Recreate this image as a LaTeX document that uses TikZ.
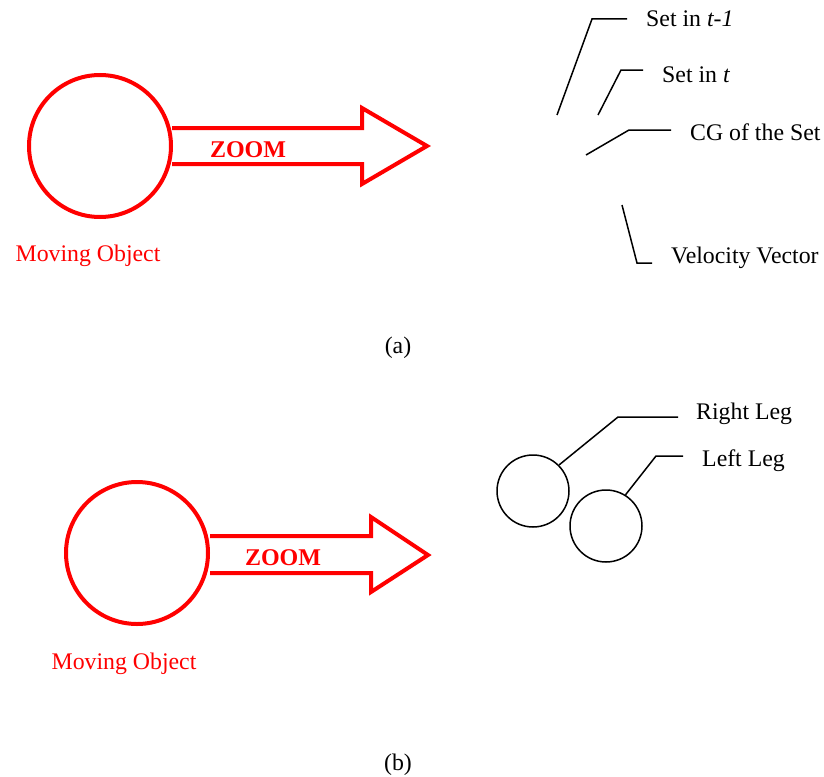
\documentclass[tikz,border=0pt]{standalone}
\usepackage{fontspec}
\setmainfont{Liberation Serif}
\begin{document}
\begin{tikzpicture}[x=1pt,y=-1pt,
  txt/.style={inner sep=0pt, font=\fontsize{23.8}{28}\selectfont},
  redtxt/.style={txt, text=red},
  zoomtxt/.style={inner sep=0pt, text=red, font=\fontsize{24}{28}\selectfont\bfseries},
  bigobj/.style={circle, draw=red, line width=4pt, minimum size=142pt, inner sep=0pt},
  leg/.style={circle, draw=black, line width=1.5pt, minimum size=72pt, inner sep=0pt},
  zoomarrow/.style={draw=red, line width=4pt, line join=miter},
  callout/.style={draw=black, line width=1.5pt}]
\useasboundingbox (0,0) rectangle (824,776);

% ---------- (a) moving object, zoom, tracked set ----------
\node[bigobj] (objA) at (100,146) {};
\path[zoomarrow] (172,128) -- (362,128) -- (362,108) -- (427,146)
  -- (362,184) -- (362,164) -- (172,164);
\node[zoomtxt, anchor=base] (zoomA) at (248,157) {ZOOM};
\node[redtxt, anchor=base] (movA) at (88,261) {Moving Object};

\node[txt, anchor=base west] (setPrev) at (646,27) {Set in \textit{t-1}};
\node[txt, anchor=base west] (setCur) at (662,82) {Set in \textit{t}};
\node[txt, anchor=base west] (cg) at (690,140) {CG of the Set};
\node[txt, anchor=base west] (vel) at (671,263) {Velocity Vector};

\coordinate (pPrev) at (557,115);
\coordinate (pCur) at (598,115);
\coordinate (pCg) at (586,155);
\coordinate (pVel) at (622,205);

\draw[callout] (pPrev) -- (592,19) -- (627,19);
\draw[callout] (pCur) -- (621,70) -- (643,70);
\draw[callout] (pCg) -- (629,130) -- (671,130);
\draw[callout] (pVel) -- (637,263) -- (652,263);

\node[txt, anchor=base] (capA) at (398,353) {(a)};

% ---------- (b) moving object, zoom, legs ----------
\node[bigobj] (objB) at (137,553) {};
\path[zoomarrow] (210,536) -- (371,536) -- (371,517) -- (428,555)
  -- (371,592) -- (371,573) -- (210,573);
\node[zoomtxt, anchor=base] (zoomB) at (283,565) {ZOOM};
\node[redtxt, anchor=base] (movB) at (124,669) {Moving Object};

\node[leg] (rleg) at (533,491) {};
\node[leg] (lleg) at (606,526) {};
\node[txt, anchor=base west] (rlegtxt) at (696,419) {Right Leg};
\node[txt, anchor=base west] (llegtxt) at (702,466) {Left Leg};

\draw[callout] (rleg.45) -- (618,417) -- (678,417);
\draw[callout] (lleg.58) -- (656,456) -- (683,456);

\node[txt, anchor=base] (capB) at (398,770) {(b)};
\end{tikzpicture}
\end{document}
